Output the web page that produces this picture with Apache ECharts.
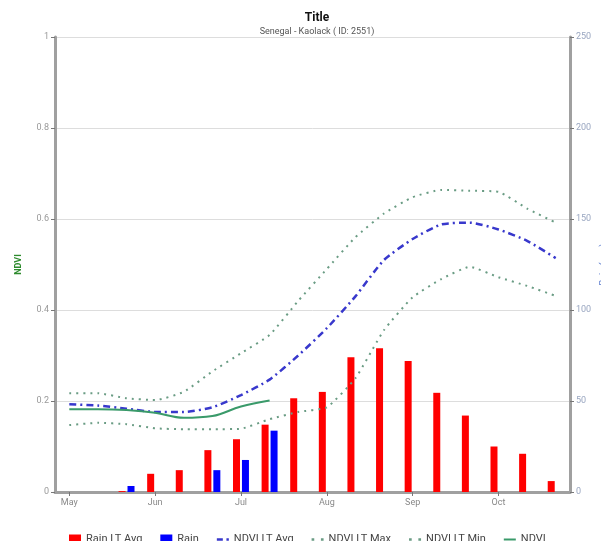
<!DOCTYPE html>
<html>
<head>
<meta charset="utf-8">
<script src="https://cdn.jsdelivr.net/npm/echarts@6/dist/echarts.min.js"></script>
<style>
html,body{margin:0;padding:0;background:#fff;}
#chart{width:601px;height:541px;}
</style>
</head>
<body>
<div id="chart"></div>
<script>
// Dekads May-1 .. Oct-3
var categories = ['May 1','May 2','May 3','Jun 1','Jun 2','Jun 3','Jul 1','Jul 2','Jul 3',
                  'Aug 1','Aug 2','Aug 3','Sep 1','Sep 2','Sep 3','Oct 1','Oct 2','Oct 3'];
var rainLtAvg = [null, null, 0.5, 10, 12, 23, 29, 37, 51.5, 55, 74, 79, 72, 54.5, 42, 25, 21, 6];
var rain      = [null, null, 3.3, null, null, 12, 17.6, 33.7, null, null, null, null, null, null, null, null, null, null];
var ndviLtAvg = [0.193, 0.19, 0.183, 0.176, 0.176, 0.186, 0.213, 0.247, 0.30, 0.36, 0.43, 0.51, 0.556, 0.588, 0.592, 0.577, 0.552, 0.514];
var ndviLtMax = [0.217, 0.217, 0.206, 0.202, 0.220, 0.265, 0.305, 0.345, 0.42, 0.49, 0.56, 0.612, 0.648, 0.664, 0.662, 0.660, 0.623, 0.592];
var ndviLtMin = [0.147, 0.152, 0.149, 0.14, 0.138, 0.138, 0.139, 0.16, 0.176, 0.186, 0.25, 0.356, 0.428, 0.468, 0.495, 0.472, 0.453, 0.431];
var ndvi      = [0.182, 0.182, 0.18, 0.174, 0.163, 0.167, 0.188, 0.201, null, null, null, null, null, null, null, null, null, null];
var ndviTicks = [0, 0.2, 0.4, 0.6, 0.8, 1];
var rainTicks = [0, 50, 100, 150, 200, 250];

var chart = echarts.init(document.getElementById('chart'), null, {renderer:'canvas'});
var axisGray = '#a0a0a0';
var iconDashDot = 'path://M0,4L5,4L5,6L0,6Z M8,4L10,4L10,6L8,6Z';
var iconDots = 'path://M1,4L3,4L3,6L1,6Z M8,4L10,4L10,6L8,6Z';
var iconSolid = 'path://M0,4L12,4L12,6L0,6Z';
var option = {
  animation: false,
  backgroundColor: '#ffffff',
  title: {
    text: 'Title',
    subtext: 'Senegal - Kaolack ( ID: 2551)',
    left: 312, textAlign: 'center', top: 7, itemGap: 3,
    textStyle: {fontFamily: 'Roboto', fontSize: 12, fontWeight: 'bold', color: '#111'},
    subtextStyle: {fontFamily: 'Roboto', fontSize: 9, color: '#555'}
  },
  legend: {
    bottom: -9, left: 64,
    itemWidth: 12, itemHeight: 10, itemGap: 18,
    textStyle: {fontFamily: 'Roboto', fontSize: 11, color: '#444'},
    data: [
      {name: 'Rain LT Avg', icon: 'rect'},
      {name: 'Rain', icon: 'rect'},
      {name: 'NDVI LT Avg', icon: iconDashDot},
      {name: 'NDVI LT Max', icon: iconDots},
      {name: 'NDVI LT Min', icon: iconDots},
      {name: 'NDVI', icon: iconSolid}
    ]
  },
  grid: {left: 55, right: 31, top: 37, bottom: 49, containLabel: false, outerBoundsMode: 'none'},
  xAxis: {
    type: 'category', data: categories, boundaryGap: true,
    axisLine: {lineStyle: {color: axisGray, width: 3}},
    axisTick: {show: true, alignWithLabel: true, interval: 2, length: 4, lineStyle: {color: '#777'}},
    axisLabel: {interval: 2, color: '#888', fontFamily: 'Roboto', fontSize: 9, margin: 6,
      formatter: function (v) { return v.split(' ')[0]; }},
    splitLine: {show: false}
  },
  yAxis: [
    {
      type: 'value', min: ndviTicks[0], max: ndviTicks[ndviTicks.length-1], interval: 0.2,
      name: 'NDVI', nameLocation: 'middle', nameGap: 32, nameMoveOverlap: false,
      nameTextStyle: {color: '#2e8b2e', fontFamily: 'Roboto', fontSize: 9, fontWeight: 'bold'},
      axisLine: {show: true, lineStyle: {color: axisGray, width: 3}},
      axisTick: {show: true, length: 4, lineStyle: {color: '#777'}},
      axisLabel: {color: '#999', fontFamily: 'Roboto', fontSize: 9, margin: 6,
        formatter: function (v) { return String(Math.round(v*10)/10); }},
      splitLine: {show: true, lineStyle: {color: '#dddddd', width: 1}}
    },
    {
      type: 'value', min: rainTicks[0], max: rainTicks[rainTicks.length-1], interval: 50,
      name: 'Rain (mm)', nameLocation: 'middle', nameGap: 29, nameMoveOverlap: false,
      nameTextStyle: {color: '#5577cc', fontFamily: 'Roboto', fontSize: 9},
      axisLine: {show: true, lineStyle: {color: axisGray, width: 3}},
      axisTick: {show: true, length: 4, lineStyle: {color: '#777'}},
      axisLabel: {color: '#99a6c0', fontFamily: 'Roboto', fontSize: 9, margin: 6},
      splitLine: {show: false}
    }
  ],
  series: [
    {
      name: 'Rain LT Avg', type: 'bar', yAxisIndex: 1, data: rainLtAvg,
      barWidth: 7, barGap: '28%',
      itemStyle: {color: '#ff0000'}
    },
    {
      name: 'Rain', type: 'bar', yAxisIndex: 1, data: rain,
      barWidth: 7, barGap: '28%',
      itemStyle: {color: '#0000ff'}
    },
    {
      name: 'NDVI LT Avg', type: 'line', yAxisIndex: 0, data: ndviLtAvg,
      symbol: 'none', smooth: 0.2,
      lineStyle: {color: '#3838cc', width: 2.5, type: [7, 4, 2, 4]},
      itemStyle: {color: '#3838cc'}
    },
    {
      name: 'NDVI LT Max', type: 'line', yAxisIndex: 0, data: ndviLtMax,
      symbol: 'none', smooth: 0.15,
      lineStyle: {color: '#6a9c84', width: 2, type: [2, 5]},
      itemStyle: {color: '#6a9c84'}
    },
    {
      name: 'NDVI LT Min', type: 'line', yAxisIndex: 0, data: ndviLtMin,
      symbol: 'none', smooth: 0.15,
      lineStyle: {color: '#6a9c84', width: 2, type: [2, 5]},
      itemStyle: {color: '#6a9c84'}
    },
    {
      name: 'NDVI', type: 'line', yAxisIndex: 0, data: ndvi,
      symbol: 'none', smooth: 0.4, connectNulls: false,
      lineStyle: {color: '#3a9a6a', width: 2},
      itemStyle: {color: '#3a9a6a'}
    }
  ]
};
chart.setOption(option);
</script>
</body>
</html>
